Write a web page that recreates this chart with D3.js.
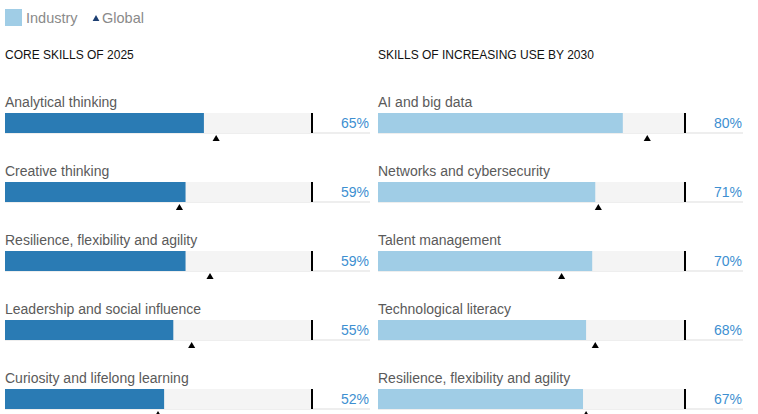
<!DOCTYPE html>
<html>
<head>
<meta charset="utf-8">
<script src="https://cdn.jsdelivr.net/npm/d3@7"></script>
<style>
  body { margin: 0; background: #fff; }
  svg text { font-family: "Liberation Sans", Arial, Helvetica, sans-serif; }
</style>
</head>
<body>
<div id="chart"></div>
<script>
var svgWidth = 758;
var svgHeight = 414;

// left panel
var coreSkills = ["Analytical thinking", "Creative thinking", "Resilience, flexibility and agility",
  "Leadership and social influence", "Curiosity and lifelong learning"];
var coreIndustry = [65, 59, 59, 55, 52];
var coreGlobal = [69, 57, 67, 61, 50];

// right panel
var risingSkills = ["AI and big data", "Networks and cybersecurity", "Talent management",
  "Technological literacy", "Resilience, flexibility and agility"];
var risingIndustry = [80, 71, 70, 68, 67];
var risingGlobal = [88, 72, 60, 71, 68];

var panelTitles = ["CORE SKILLS OF 2025", "SKILLS OF INCREASING USE BY 2030"];
var legendLabels = ["Industry", "Global"];

var svg = d3.select("#chart")
  .append("svg")
  .attr("width", svgWidth)
  .attr("height", svgHeight);

// legend
var legend = svg.append("g");
legend.append("rect")
  .attr("x", 5).attr("y", 9)
  .attr("width", 17).attr("height", 17)
  .attr("fill", "#a0cde6");
legend.append("text")
  .attr("x", 26).attr("y", 23)
  .attr("font-size", 14.5)
  .attr("fill", "#8a8a8a")
  .text(legendLabels[0]);
legend.append("path")
  .attr("d", d3.symbol().type(d3.symbolTriangle).size(20))
  .attr("transform", "translate(96, 19)")
  .attr("fill", "#1d3f72");
legend.append("text")
  .attr("x", 102).attr("y", 23)
  .attr("font-size", 14.5)
  .attr("fill", "#8a8a8a")
  .text(legendLabels[1]);

function drawPanel(x0, title, skills, industry, global, barColor) {
  var g = svg.append("g").attr("transform", `translate(${x0}, 0)`);

  g.append("text")
    .attr("x", 0).attr("y", 59)
    .attr("font-size", 12)
    .attr("fill", "#111")
    .text(title);

  var xscale = d3.scaleLinear().domain([0, 100]).range([0, 306]);
  var yscale = d3.scaleBand()
    .domain(d3.range(skills.length))
    .range([90, 90 + 69 * skills.length]);

  var rows = g.selectAll("g.row")
    .data(skills)
    .enter()
    .append("g")
    .attr("class", "row")
    .attr("transform", function (d, i) { return `translate(0, ${yscale(i)})`; });

  rows.append("text")
    .attr("x", 0).attr("y", 17)
    .attr("font-size", 14)
    .attr("fill", "#5a5a5a")
    .text(function (d) { return d; });

  rows.append("rect")
    .attr("x", 0).attr("y", 42)
    .attr("width", 365).attr("height", 2)
    .attr("fill", "#eeeeee");

  rows.append("rect")
    .attr("x", 0).attr("y", 23)
    .attr("width", xscale(100)).attr("height", 20)
    .attr("fill", "#f4f4f4");

  rows.append("rect")
    .attr("x", 0).attr("y", 23)
    .attr("width", function (d, i) { return xscale(industry[i]); })
    .attr("height", 20)
    .attr("fill", barColor);

  rows.append("rect")
    .attr("x", xscale(100)).attr("y", 23)
    .attr("width", 2).attr("height", 20)
    .attr("fill", "#000");

  rows.append("text")
    .attr("x", 364).attr("y", 38)
    .attr("text-anchor", "end")
    .attr("font-size", 14)
    .attr("fill", "#3d8fd1")
    .text(function (d, i) { return industry[i] + "%"; });

  rows.append("path")
    .attr("d", d3.symbol().type(d3.symbolTriangle).size(22))
    .attr("transform", function (d, i) { return `translate(${xscale(global[i])}, 49)`; })
    .attr("fill", "#000");
}

drawPanel(5, panelTitles[0], coreSkills, coreIndustry, coreGlobal, "#2a7bb4");
drawPanel(378, panelTitles[1], risingSkills, risingIndustry, risingGlobal, "#a0cde6");
</script>
</body>
</html>
